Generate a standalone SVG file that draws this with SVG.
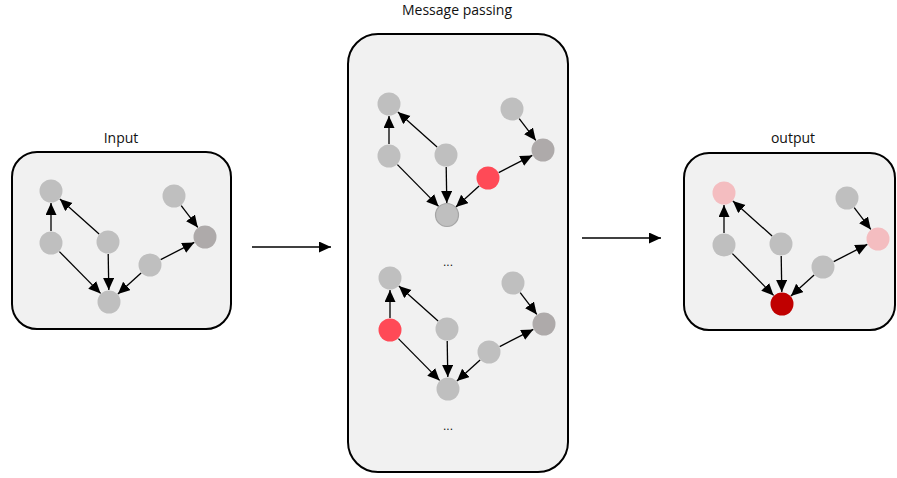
<svg xmlns="http://www.w3.org/2000/svg" width="897" height="478" viewBox="0 0 897 478">
  <style>
    .panel { fill: #F1F1F1; stroke: #000; stroke-width: 2; }
    .title { font-family: "Open Sans", "Liberation Sans", sans-serif; font-size: 14px; fill: #111; text-anchor: middle; }
    .dots { font-family: "Liberation Sans", sans-serif; font-size: 12px; fill: #111; text-anchor: middle; }
    .n { fill: #BFBFBF; }
    .n-dark { fill: #AEAAAA; }
    .n-red { fill: #FF4A57; }
    .n-pink { fill: #F4BDC0; }
    .n-deep { fill: #C00000; }
    .n-ring { fill: #BFBFBF; stroke: #A5A5A5; stroke-width: 1.2; }
    .e { stroke: #000; stroke-width: 1.3; fill: none; marker-end: url(#tip); }
    .flow { stroke: #000; stroke-width: 1.3; fill: none; marker-end: url(#tip); }
  </style>
  <defs>
    <marker id="tip" markerUnits="userSpaceOnUse" markerWidth="13" markerHeight="12" refX="12" refY="5.5" orient="auto">
      <path d="M0,0 L12,5.5 L0,11 Z" fill="#000"/>
    </marker>
    <!-- shared edge set, local coordinates: A(0,0) B(0,52) C(57,51) D(58,111) E(99,74) F(123,5) G(154,46) -->
    <g id="edges">
      <line class="e" x1="0" y1="40" x2="0" y2="12"/>
      <line class="e" x1="48.1" y1="43" x2="8.9" y2="8"/>
      <line class="e" x1="8.4" y1="60.6" x2="49.6" y2="102.4"/>
      <line class="e" x1="57.2" y1="63" x2="57.8" y2="99"/>
      <line class="e" x1="90.1" y1="82" x2="66.9" y2="103"/>
      <line class="e" x1="109.7" y1="68.6" x2="143.3" y2="51.4"/>
      <line class="e" x1="130.2" y1="14.6" x2="146.8" y2="36.4"/>
    </g>
  </defs>

  <!-- panels -->
  <g id="panel-input">
    <rect class="panel" x="12" y="152" width="219" height="177" rx="25"/>
    <text class="title" x="121" y="143">Input</text>
  </g>
  <g id="panel-message-passing">
    <rect class="panel" x="348" y="34" width="220" height="438" rx="30"/>
    <text class="title" x="457" y="15">Message passing</text>
    <text class="dots" x="448" y="266">...</text>
    <text class="dots" x="448" y="430">...</text>
  </g>
  <g id="panel-output">
    <rect class="panel" x="684" y="153" width="211" height="177" rx="25"/>
    <text class="title" x="793" y="143">output</text>
  </g>

  <!-- connectors -->
  <g id="connectors">
    <use href="#edges" transform="translate(51,191)"/>
    <use href="#edges" transform="translate(389,104)"/>
    <use href="#edges" transform="translate(390,278)"/>
    <use href="#edges" transform="translate(724,193)"/>
    <line class="flow" x1="252" y1="247" x2="331" y2="247"/>
    <line class="flow" x1="582" y1="238" x2="661" y2="238"/>
  </g>

  <!-- input graph -->
  <g id="in-A"><circle class="n" cx="51" cy="191" r="11.5"/></g>
  <g id="in-B"><circle class="n" cx="51" cy="243" r="11.5"/></g>
  <g id="in-C"><circle class="n" cx="108" cy="242" r="11.5"/></g>
  <g id="in-D"><circle class="n" cx="109" cy="302" r="11.5"/></g>
  <g id="in-E"><circle class="n" cx="150" cy="265" r="11.5"/></g>
  <g id="in-F"><circle class="n" cx="174" cy="196" r="11.5"/></g>
  <g id="in-G"><circle class="n-dark" cx="205" cy="237" r="11.5"/></g>

  <!-- message passing, step 1 -->
  <g id="mp1-A"><circle class="n" cx="389" cy="104" r="11.5"/></g>
  <g id="mp1-B"><circle class="n" cx="389" cy="156" r="11.5"/></g>
  <g id="mp1-C"><circle class="n" cx="446" cy="155" r="11.5"/></g>
  <g id="mp1-D"><circle class="n-ring" cx="447" cy="215" r="11.5"/></g>
  <g id="mp1-E"><circle class="n-red" cx="488" cy="178" r="11.5"/></g>
  <g id="mp1-F"><circle class="n" cx="512" cy="109" r="11.5"/></g>
  <g id="mp1-G"><circle class="n-dark" cx="543" cy="150" r="11.5"/></g>

  <!-- message passing, step 2 -->
  <g id="mp2-A"><circle class="n" cx="390" cy="278" r="11.5"/></g>
  <g id="mp2-B"><circle class="n-red" cx="390" cy="330" r="11.5"/></g>
  <g id="mp2-C"><circle class="n" cx="447" cy="329" r="11.5"/></g>
  <g id="mp2-D"><circle class="n" cx="448" cy="389" r="11.5"/></g>
  <g id="mp2-E"><circle class="n" cx="489" cy="352" r="11.5"/></g>
  <g id="mp2-F"><circle class="n" cx="513" cy="283" r="11.5"/></g>
  <g id="mp2-G"><circle class="n-dark" cx="544" cy="324" r="11.5"/></g>

  <!-- output graph -->
  <g id="out-A"><circle class="n-pink" cx="724" cy="193" r="11.5"/></g>
  <g id="out-B"><circle class="n" cx="724" cy="245" r="11.5"/></g>
  <g id="out-C"><circle class="n" cx="781" cy="244" r="11.5"/></g>
  <g id="out-D"><circle class="n-deep" cx="782" cy="304" r="11.5"/></g>
  <g id="out-E"><circle class="n" cx="823" cy="267" r="11.5"/></g>
  <g id="out-F"><circle class="n" cx="847" cy="198" r="11.5"/></g>
  <g id="out-G"><circle class="n-pink" cx="878" cy="239" r="11.5"/></g>
</svg>
